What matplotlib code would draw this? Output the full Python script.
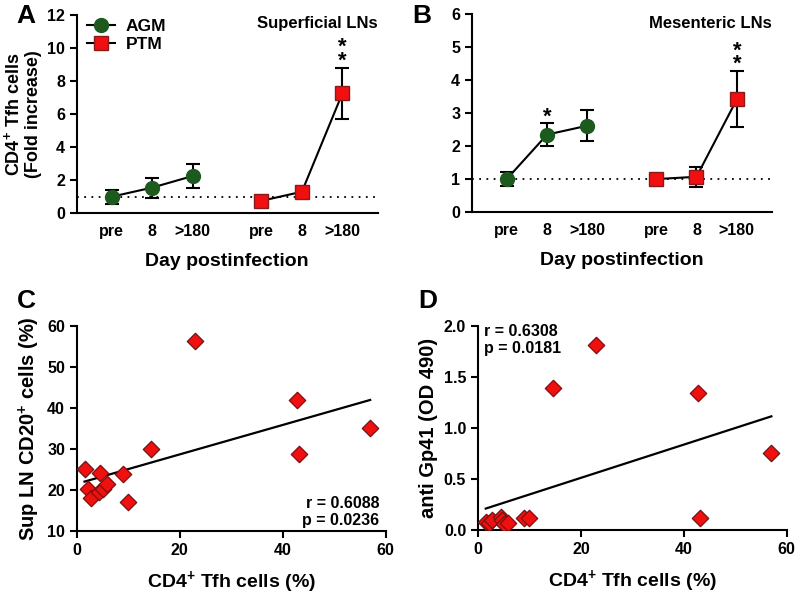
import numpy as np
import matplotlib
matplotlib.use('Agg')
import matplotlib.pyplot as plt
from matplotlib.lines import Line2D
from matplotlib.ticker import FormatStrFormatter

plt.rcParams['font.family'] = ['Liberation Sans', 'DejaVu Sans']
plt.rcParams['font.weight'] = 'bold'
plt.rcParams['mathtext.fontset'] = 'custom'
plt.rcParams['mathtext.rm'] = 'Liberation Sans:bold'
plt.rcParams['mathtext.bf'] = 'Liberation Sans:bold'
plt.rcParams['mathtext.default'] = 'bf'
plt.rcParams['axes.linewidth'] = 1.5

# panel A / B data
time_labels = ['pre', '8', '>180']
agm_pos = [1, 2, 3]
ptm_pos = [4.7, 5.7, 6.7]

sup_agm = [1.0, 1.55, 2.25]
sup_agm_err = [0.42, 0.6, 0.72]
sup_ptm = [0.75, 1.3, 7.25]
sup_ptm_err = [0.1, 0.12, 1.53]

mes_agm = [1.0, 2.35, 2.62]
mes_agm_err = [0.22, 0.36, 0.47]
mes_ptm = [1.0, 1.07, 3.42]
mes_ptm_err = [0.05, 0.3, 0.85]

# panel C / D data
tfh = [1.5, 2.2, 2.8, 4.4, 4.6, 5.0, 5.9, 8.9, 10.0, 14.5, 23.0, 42.7, 43.1, 57.0]
cd20 = [25.2, 20.2, 18.1, 19.5, 24.2, 20.3, 21.4, 24.0, 17.0, 30.1, 56.3, 41.9, 28.9, 35.2]
gp41 = [0.08, 0.07, 0.10, 0.13, 0.10, 0.06, 0.07, 0.12, 0.12, 1.39, 1.81, 1.34, 0.12, 0.75]

green = '#1d5a1d'
red = '#f01010'
TICK_FS = 11.5

fig = plt.figure(figsize=(8, 5.94), dpi=100)


def bold_ticks(ax):
    for lab in ax.get_xticklabels() + ax.get_yticklabels():
        lab.set_fontweight('bold')


def style_axes(ax):
    ax.spines['top'].set_visible(False)
    ax.spines['right'].set_visible(False)
    ax.tick_params(width=1.5, length=5, labelsize=TICK_FS, direction='out')
    bold_ticks(ax)


def stars(ax, x, y, n):
    # stacked significance stars, one text
    ax.text(x, y, '\n'.join(['*'] * n), ha='center', va='center',
            fontsize=16, fontweight='bold', linespacing=0.55)


def line_panel(rect, agm, agm_err, ptm, ptm_err, ymax, title, letter):
    ax = fig.add_axes(rect)
    ax.axhline(1, color='black', ls=(0, (1, 3)), lw=1.3, zorder=1)
    ax.errorbar(agm_pos, agm, yerr=agm_err, color='black', lw=1.5, capsize=5,
                capthick=1.5, marker='o', ms=10, mfc=green, mec=green, zorder=3)
    ax.errorbar(ptm_pos, ptm, yerr=ptm_err, color='black', lw=1.5, capsize=5,
                capthick=1.5, marker='s', ms=10, mfc=red, mec='#8b1a1a', zorder=3)
    ax.set_xlim(0.14, 7.57)
    ax.set_ylim(0, ymax)
    ax.set_xticks(agm_pos + ptm_pos)
    ax.set_xticklabels(time_labels * 2)
    ax.set_xlabel('Day postinfection', fontsize=14, fontweight='bold', labelpad=10)
    style_axes(ax)
    ax.tick_params(axis='x', length=0, pad=8)
    ax.text(1.0, 0.955, title, transform=ax.transAxes, ha='right', va='center',
            fontsize=12, fontweight='bold')
    ax.spines['left'].set_bounds(0, ymax)
    fig.text(rect[0] - 0.075, rect[1] + rect[3] + 0.018, letter, fontsize=19,
             fontweight='bold', va='top')
    return ax


axA = line_panel([0.096, 0.641, 0.376, 0.334], sup_agm, sup_agm_err,
                 sup_ptm, sup_ptm_err, 12, 'Superficial LNs', 'A')
axA.set_yticks(range(0, 13, 2))
bold_ticks(axA)
axA.set_ylabel('CD4$^{+}$ Tfh cells\n(Fold increase)', fontsize=13,
               fontweight='bold', linespacing=1.1)
stars(axA, ptm_pos[2], 9.6, 2)
handles = [Line2D([], [], color='black', lw=1.5, marker='o', ms=10,
                  mfc=green, mec=green),
           Line2D([], [], color='black', lw=1.5, marker='s', ms=10,
                  mfc=red, mec='#8b1a1a')]
leg = axA.legend(handles, ['AGM', 'PTM'], loc='upper left',
                 bbox_to_anchor=(0.0, 1.03), frameon=False, fontsize=12.5,
                 handlelength=1.6, handletextpad=0.6, borderaxespad=0.2,
                 labelspacing=0.15)
for t in leg.get_texts():
    t.set_fontweight('bold')

axB = line_panel([0.59, 0.643, 0.375, 0.333], mes_agm, mes_agm_err,
                 mes_ptm, mes_ptm_err, 6, 'Mesenteric LNs', 'B')
axB.set_yticks(range(0, 7))
bold_ticks(axB)
stars(axB, agm_pos[1], 2.88, 1)
stars(axB, ptm_pos[2], 4.68, 2)


def scatter_panel(rect, yvals, ylim, yticks, ylabel, stats, stats_pos, letter):
    ax = fig.add_axes(rect)
    ax.scatter(tfh, yvals, marker='D', s=70, c=red, edgecolors='#7a1010',
               linewidths=0.9, zorder=3)
    slope, icpt = np.polyfit(tfh, yvals, 1)
    xs = np.array([min(tfh), max(tfh)])
    ax.plot(xs, slope * xs + icpt, color='black', lw=1.6, zorder=2)
    ax.set_xlim(0, 60)
    ax.set_ylim(*ylim)
    ax.set_xticks([0, 20, 40, 60])
    ax.set_yticks(yticks)
    style_axes(ax)
    ax.set_xlabel('CD4$^{+}$ Tfh cells (%)', fontsize=14, fontweight='bold',
                  labelpad=8)
    ax.set_ylabel(ylabel, fontsize=14.5, fontweight='bold')
    ax.text(stats_pos[0], stats_pos[1], stats, transform=ax.transAxes,
            ha=stats_pos[2], va=stats_pos[3], fontsize=11.5, fontweight='bold',
            linespacing=1.15)
    fig.text(rect[0] - 0.075, rect[1] + rect[3] + 0.062, letter, fontsize=19,
             fontweight='bold', va='top')
    return ax


axC = scatter_panel([0.096, 0.106, 0.386, 0.345], cd20, (10, 60),
                    range(10, 61, 10), 'Sup LN CD20$^{+}$ cells (%)',
                    'r = 0.6088\np = 0.0236', (0.98, 0.015, 'right', 'bottom'), 'C')
axD = scatter_panel([0.5975, 0.108, 0.386, 0.343], gp41, (0, 2.0),
                    [0.0, 0.5, 1.0, 1.5, 2.0], 'anti Gp41 (OD 490)',
                    'r = 0.6308\np = 0.0181', (0.02, 1.01, 'left', 'top'), 'D')
axD.yaxis.set_major_formatter(FormatStrFormatter('%.1f'))
bold_ticks(axD)

fig.savefig('out.png', dpi=100)
